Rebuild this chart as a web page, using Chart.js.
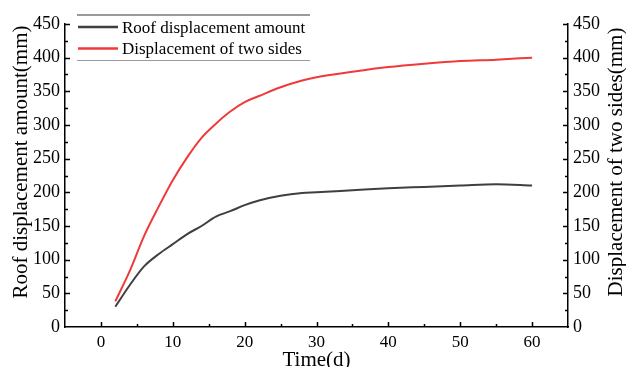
<!DOCTYPE html>
<html>
<head>
<meta charset="utf-8">
<script src="https://cdn.jsdelivr.net/npm/chart.js@4/dist/chart.umd.min.js"></script>
<style>
  html, body { margin: 0; padding: 0; background: #fff; }
  #wrap { width: 626px; height: 367px; }
</style>
</head>
<body>
<div id="wrap"><canvas id="chart" width="626" height="367"></canvas></div>
<script>
// values
const days = [2, 4, 6, 8, 10, 12, 14, 16, 18, 20, 22, 25, 28, 30, 35, 40, 45, 50, 55, 60];
const roofDisp = [30, 62, 90, 108, 123, 138, 150, 164, 172, 181, 188, 195, 199, 200, 203, 206, 208, 210, 212, 210];
const sideDisp = [38, 83, 135, 178, 218, 252, 281, 302, 320, 334, 343, 356, 366, 371, 379, 386, 391, 395, 397, 400];

const xTicks = [0, 10, 20, 30, 40, 50, 60];
const yTicks = [0, 50, 100, 150, 200, 250, 300, 350, 400, 450];

const seriesNames = ['Roof displacement amount', 'Displacement of two sides'];
const leftTitle = 'Roof displacement amount(mm)';
const rightTitle = 'Displacement of two sides(mm)';
const xTitle = 'Time(d)';

const SERIF = '"Liberation Serif", "Times New Roman", serif';
const colors = ['#3f3f3f', '#f03a3a'];

const toPoints = (ys) => days.map((d, i) => ({ x: d, y: ys[i] }));
const fixTicks = (vals) => (scale) => { scale.ticks = vals.map(v => ({ value: v })); };

// inward tick marks, titles and the framed legend
const decorations = {
  id: 'decorations',
  afterDraw(chart) {
    const ctx = chart.ctx;
    const { x, y, y2 } = chart.scales;
    ctx.save();
    ctx.strokeStyle = '#000';
    ctx.lineWidth = 1.5;
    ctx.beginPath();
    for (let v = 0; v < 65; v += 5) {
      const px = Math.round(x.getPixelForValue(v)) + 0.5;
      const len = v % 10 === 0 ? 5 : 3;
      ctx.moveTo(px, x.top);
      ctx.lineTo(px, x.top - len);
    }
    for (let v = 25; v <= 450; v += 25) {
      const py = Math.round(y.getPixelForValue(v)) + 0.5;
      const len = v % 50 === 0 ? 5 : 3;
      ctx.moveTo(y.right, py);
      ctx.lineTo(y.right + len, py);
      ctx.moveTo(y2.left, py);
      ctx.lineTo(y2.left - len, py);
    }
    ctx.stroke();

    // axis titles
    ctx.fillStyle = '#000';
    ctx.font = '21px ' + SERIF;
    ctx.textAlign = 'center';
    ctx.textBaseline = 'alphabetic';
    ctx.save();
    ctx.translate(27, 162);
    ctx.rotate(-Math.PI / 2);
    ctx.fillText(leftTitle, 0, 0);
    ctx.restore();
    ctx.save();
    ctx.translate(622, 162);
    ctx.rotate(-Math.PI / 2);
    ctx.fillText(rightTitle, 0, 0);
    ctx.restore();
    ctx.fillText(xTitle, (x.left + x.right) / 2, 366);

    // legend
    ctx.strokeStyle = '#9a9a9a';
    ctx.lineWidth = 2;
    ctx.beginPath();
    ctx.moveTo(77, 15);
    ctx.lineTo(310, 15);
    ctx.stroke();
    ctx.lineWidth = 1;
    ctx.beginPath();
    ctx.moveTo(77, 60.5);
    ctx.lineTo(310, 60.5);
    ctx.stroke();
    ctx.font = '17px ' + SERIF;
    ctx.textAlign = 'left';
    const rowY = [27, 48.5];
    seriesNames.forEach((name, i) => {
      ctx.strokeStyle = colors[i];
      ctx.lineWidth = 2.5;
      ctx.beginPath();
      ctx.moveTo(78, rowY[i]);
      ctx.lineTo(118, rowY[i]);
      ctx.stroke();
      ctx.fillStyle = '#000';
      ctx.fillText(name, 122, rowY[i] + 5.5);
    });
    ctx.restore();
  }
};

new Chart(document.getElementById('chart'), {
  type: 'line',
  data: {
    datasets: [
      {
        label: seriesNames[0],
        data: toPoints(roofDisp),
        borderColor: colors[0],
        borderWidth: 2,
        pointRadius: 0,
        cubicInterpolationMode: 'monotone',
        yAxisID: 'y'
      },
      {
        label: seriesNames[1],
        data: toPoints(sideDisp),
        borderColor: colors[1],
        borderWidth: 2,
        pointRadius: 0,
        cubicInterpolationMode: 'monotone',
        yAxisID: 'y2'
      }
    ]
  },
  options: {
    responsive: false,
    animation: false,
    layout: { padding: { top: 24, left: 0, right: 0, bottom: 0 } },
    plugins: { legend: { display: false }, tooltip: { enabled: false } },
    scales: {
      x: {
        type: 'linear',
        min: -5,
        max: 65,
        afterBuildTicks: fixTicks(xTicks),
        afterFit: (s) => { s.height = 40; },
        grid: { display: false, drawTicks: false },
        border: { display: true, color: '#000', width: 1.5 },
        ticks: { color: '#000', padding: 5, maxRotation: 0, font: { family: SERIF, size: 17 } }
      },
      y: {
        position: 'left',
        min: 0,
        max: 450,
        afterBuildTicks: fixTicks(yTicks),
        afterFit: (s) => { s.width = 65; },
        grid: { display: false, drawTicks: false },
        border: { display: true, color: '#000', width: 1.5 },
        ticks: { color: '#000', padding: 5, font: { family: SERIF, size: 18 } }
      },
      y2: {
        position: 'right',
        min: 0,
        max: 450,
        afterBuildTicks: fixTicks(yTicks),
        afterFit: (s) => { s.width = 58; },
        grid: { display: false, drawTicks: false },
        border: { display: true, color: '#000', width: 1.5 },
        ticks: { color: '#000', padding: 5, font: { family: SERIF, size: 18 } }
      }
    }
  },
  plugins: [decorations]
});
</script>
</body>
</html>
